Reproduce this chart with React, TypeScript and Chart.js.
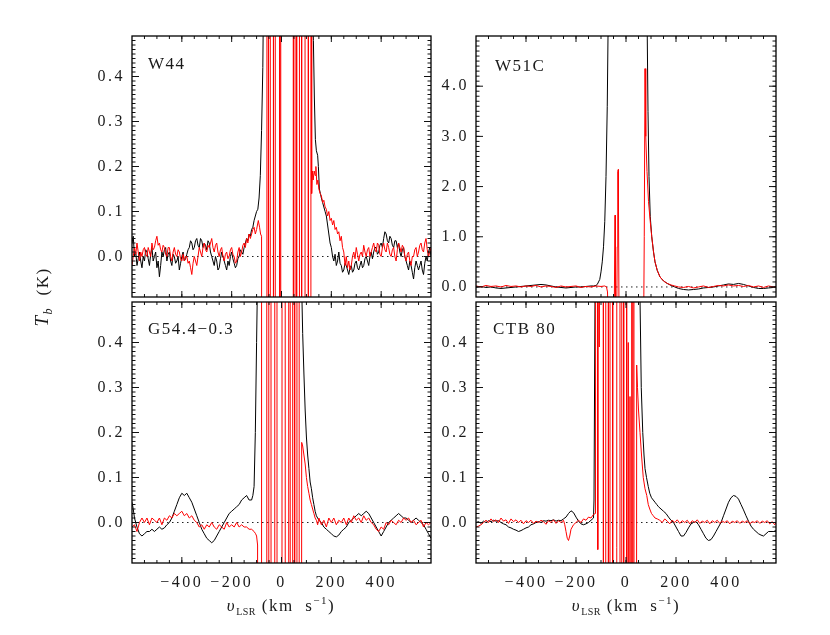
import React, { useEffect, useRef } from 'react';
import { Chart, registerables } from 'chart.js';
Chart.register(...registerables);

type Pt = [number, number];

// ---------- axes / ticks ----------
const xTickValues = [-400, -200, 0, 200, 400];
const xTickLabels = ['−400', '−200', '0', '200', '400'];
const lowYTickValues = [0, 0.1, 0.2, 0.3, 0.4];
const lowYTickLabels = ['0.0', '0.1', '0.2', '0.3', '0.4'];
const w51cYTickValues = [0, 1, 2, 3, 4];
const w51cYTickLabels = ['0.0', '1.0', '2.0', '3.0', '4.0'];
const panelNames = ['W44', 'W51C', 'G54.4−0.3', 'CTB 80'];

// ---------- W44 ----------
const w44Black: Pt[] = [
  [-600, 0.03], [-595, 0.045], [-590, 0.0], [-585, 0.01], [-580, -0.02], [-575, -0.005], [-570, 0.01], [-565, -0.01],
  [-560, -0.025], [-555, 0.0], [-550, -0.01], [-545, 0.015], [-540, 0.01], [-535, -0.005], [-530, -0.02], [-525, 0.005],
  [-520, 0.02], [-515, -0.01], [-510, 0.0], [-505, 0.01], [-500, -0.025], [-495, -0.01], [-490, -0.045], [-485, -0.02],
  [-480, 0.01], [-475, 0.0], [-470, 0.015], [-465, 0.02], [-460, -0.01], [-455, 0.005], [-450, 0.01], [-445, -0.01],
  [-440, -0.02], [-435, 0.005], [-430, 0.0], [-425, -0.015], [-420, -0.01], [-415, 0.0], [-410, -0.03], [-405, -0.015],
  [-400, 0.0], [-395, 0.01], [-390, -0.01], [-385, -0.005], [-380, 0.005], [-375, 0.015], [-370, 0.02], [-365, 0.035],
  [-360, 0.03], [-355, 0.015], [-350, 0.02], [-345, 0.035], [-340, 0.04], [-335, 0.025], [-330, 0.02], [-325, 0.04],
  [-320, 0.035], [-315, 0.02], [-310, 0.03], [-305, 0.025], [-300, 0.015], [-295, 0.035], [-290, 0.03], [-285, 0.01],
  [-280, 0.0], [-275, -0.01], [-270, -0.02], [-265, 0.0], [-260, -0.01], [-255, -0.03], [-250, -0.025], [-245, -0.005],
  [-240, 0.01], [-235, 0.0], [-230, -0.01], [-225, -0.02], [-220, -0.03], [-215, -0.01], [-210, -0.02], [-205, 0.0],
  [-200, 0.01], [-195, -0.005], [-190, -0.015], [-185, -0.025], [-180, -0.02], [-175, -0.005], [-170, 0.0], [-165, 0.015],
  [-160, 0.01], [-155, 0.005], [-150, 0.02], [-145, 0.03], [-140, 0.04], [-135, 0.035], [-130, 0.05], [-125, 0.045],
  [-120, 0.06], [-115, 0.065], [-110, 0.08], [-105, 0.09], [-100, 0.1], [-95, 0.105], [-90, 0.13], [-85, 0.18],
  [-80, 0.28], [-75, 0.42], [-70, 0.7], [-60, 1.5], [-40, 3], [0, 4], [60, 3], [100, 1.5], [115, 0.9], [122, 0.6],
  [128, 0.48], [132, 0.35], [136, 0.26], [140, 0.235], [145, 0.225], [148, 0.2], [152, 0.15], [156, 0.14],
  [160, 0.13], [165, 0.12], [170, 0.11], [175, 0.1], [180, 0.09], [185, 0.07], [190, 0.05], [195, 0.03], [200, 0.02],
  [205, 0.0], [210, -0.01], [215, 0.005], [220, -0.02], [225, -0.01], [230, 0.01], [235, -0.015], [240, -0.02],
  [245, -0.035], [250, -0.03], [255, -0.015], [260, -0.02], [265, -0.03], [270, -0.04], [275, -0.025], [280, -0.02],
  [285, -0.035], [290, -0.03], [295, -0.015], [300, -0.01], [305, -0.025], [310, -0.03], [315, -0.02], [320, -0.01],
  [325, -0.025], [330, -0.02], [335, -0.005], [340, 0.0], [345, -0.01], [350, -0.02], [355, 0.0], [360, 0.01],
  [365, -0.005], [370, 0.01], [375, 0.02], [380, 0.02], [385, 0.005], [390, 0.01], [395, 0.025], [400, 0.03],
  [405, 0.02], [410, 0.04], [415, 0.055], [420, 0.05], [425, 0.035], [430, 0.03], [435, 0.045], [440, 0.04],
  [445, 0.025], [450, 0.02], [455, 0.035], [460, 0.035], [465, 0.02], [470, 0.03], [475, 0.01], [480, 0.0],
  [485, 0.015], [490, 0.02], [495, 0.0], [500, -0.01], [505, -0.02], [510, -0.03], [515, -0.01], [520, -0.02],
  [525, -0.035], [530, -0.05], [535, -0.025], [540, -0.01], [545, -0.02], [550, -0.03], [555, -0.02], [560, -0.01],
  [565, -0.03], [570, -0.04], [575, -0.015], [580, 0.0], [585, -0.01], [590, 0.01], [595, 0.02], [600, 0.0],
];
const w44Red: Pt[] = [
  [-600, -0.02], [-595, 0.0], [-590, 0.02], [-585, 0.005], [-580, 0.03], [-575, 0.01], [-570, -0.01], [-565, 0.01],
  [-560, 0.0], [-555, 0.015], [-550, 0.02], [-545, 0.005], [-540, 0.0], [-535, 0.02], [-530, 0.01], [-525, 0.0],
  [-520, 0.03], [-515, 0.015], [-510, 0.02], [-505, 0.035], [-500, 0.045], [-495, 0.025], [-490, 0.03], [-485, 0.015],
  [-480, 0.01], [-475, 0.025], [-470, 0.02], [-465, 0.005], [-460, 0.0], [-455, 0.02], [-450, 0.02], [-445, 0.0],
  [-440, -0.01], [-435, 0.01], [-430, 0.02], [-425, 0.005], [-420, 0.0], [-415, 0.015], [-410, 0.01], [-405, -0.005],
  [-400, -0.01], [-395, 0.005], [-390, -0.01], [-385, 0.0], [-380, 0.0], [-375, -0.015], [-370, -0.01], [-365, -0.025],
  [-360, -0.04], [-355, -0.015], [-350, 0.0], [-345, -0.01], [-340, -0.02], [-335, 0.0], [-330, 0.02], [-325, 0.01],
  [-320, 0.0], [-315, 0.02], [-310, 0.03], [-305, 0.015], [-300, 0.01], [-295, 0.025], [-290, 0.02], [-285, 0.03],
  [-280, 0.04], [-275, 0.02], [-270, 0.01], [-265, 0.025], [-260, 0.03], [-255, 0.01], [-250, 0.0], [-245, 0.015],
  [-240, 0.02], [-235, 0.0], [-230, -0.01], [-225, 0.005], [-220, 0.01], [-215, -0.005], [-210, 0.0], [-205, 0.015],
  [-200, 0.02], [-195, 0.005], [-190, 0.0], [-185, -0.015], [-180, -0.01], [-175, 0.01], [-170, 0.02], [-165, 0.0],
  [-160, 0.01], [-155, 0.025], [-150, 0.03], [-145, 0.02], [-140, 0.04], [-135, 0.03], [-130, 0.05], [-125, 0.04],
  [-120, 0.05], [-115, 0.06], [-110, 0.065], [-105, 0.05], [-100, 0.06], [-93, 0.08], [-88, 0.065], [-84, 0.05],
  [-80, 0.045], [-76, -5], [-59, -5], [-58, 5], [-53, 5], [-52, -5], [-46, -5], [-45, 5], [-33, 5], [-32, -5],
  [-26, -5], [-25, 5], [-8, 5], [-7, -5], [-4, -5], [-3, 5], [47, 5], [48, -5], [54, -5], [55, 5], [60, 5],
  [61, -5], [71, -5], [72, 5], [80, 5], [81, -5], [94, -5], [95, 5], [107, 5], [108, -5], [117, -5], [119, 5],
  [121, 0.14], [124, 0.19], [127, 0.17], [131, 0.19], [135, 0.18], [138, 0.2], [142, 0.16], [146, 0.17],
  [150, 0.15], [155, 0.14], [160, 0.135], [165, 0.12], [170, 0.125], [175, 0.11], [180, 0.105], [185, 0.09],
  [190, 0.1], [195, 0.08], [200, 0.085], [205, 0.07], [210, 0.08], [215, 0.06], [220, 0.065], [225, 0.05],
  [230, 0.055], [235, 0.035], [240, 0.045], [245, 0.02], [250, 0.01], [255, -0.02], [260, 0.0], [265, -0.025],
  [270, -0.01], [275, -0.03], [280, -0.02], [285, 0.0], [290, 0.01], [295, -0.005], [300, 0.02], [305, 0.005],
  [310, -0.01], [315, 0.005], [320, 0.01], [325, 0.0], [330, 0.025], [335, 0.01], [340, 0.0], [345, 0.015],
  [350, 0.02], [355, 0.0], [360, 0.01], [365, 0.02], [370, 0.03], [375, 0.015], [380, 0.01], [385, 0.03],
  [390, 0.025], [395, 0.005], [400, 0.0], [405, 0.02], [410, 0.03], [415, 0.015], [420, 0.01], [425, 0.03],
  [430, 0.02], [435, 0.005], [440, 0.0], [445, 0.015], [450, 0.02], [455, 0.0], [460, -0.01], [465, 0.015],
  [470, 0.03], [475, 0.02], [480, 0.01], [485, 0.025], [490, 0.02], [495, 0.0], [500, -0.01], [505, 0.005],
  [510, 0.01], [515, -0.01], [520, -0.02], [525, 0.0], [530, 0.0], [535, 0.015], [540, 0.02], [545, 0.0],
  [550, 0.01], [555, 0.025], [560, 0.03], [565, 0.015], [570, 0.01], [575, 0.03], [580, 0.04], [585, 0.015],
  [590, 0.0], [595, 0.01], [600, 0.02],
];

// ---------- W51C ----------
const w51cBlack: Pt[] = [
  [-600, 0.0], [-580, 0.01], [-560, -0.01], [-540, 0.0], [-520, -0.02], [-500, -0.03], [-480, -0.02], [-460, -0.01],
  [-440, 0.0], [-420, 0.01], [-400, 0.02], [-380, 0.03], [-360, 0.04], [-340, 0.05], [-320, 0.04], [-300, 0.02],
  [-280, 0.0], [-260, -0.01], [-240, -0.02], [-220, -0.01], [-200, 0.0], [-180, 0.0], [-160, 0.01], [-140, 0.02],
  [-130, 0.02], [-120, 0.03], [-115, 0.05], [-110, 0.1], [-105, 0.15], [-100, 0.3], [-95, 0.5], [-90, 0.8],
  [-85, 1.3], [-80, 2.2], [-75, 3.6], [-72, 5.0], [-70, 7], [0, 9], [80, 7], [85, 5], [88, 3.5], [92, 2.2],
  [97, 1.4], [103, 1.0], [110, 0.7], [116, 0.5], [125, 0.33], [136, 0.2], [150, 0.12], [165, 0.07], [180, 0.03],
  [195, 0.0], [210, -0.03], [230, -0.05], [250, -0.06], [270, -0.05], [290, -0.04], [310, -0.02], [330, -0.01],
  [350, 0.0], [370, 0.02], [390, 0.04], [410, 0.06], [430, 0.05], [450, 0.07], [470, 0.05], [490, 0.02],
  [510, -0.01], [530, -0.03], [550, -0.03], [570, -0.02], [590, -0.01], [600, 0.0],
];
const w51cRed: Pt[] = [
  [-600, 0.02], [-580, 0.0], [-560, 0.03], [-540, 0.01], [-520, 0.02], [-500, 0.0], [-480, 0.03], [-460, 0.01],
  [-440, 0.02], [-420, 0.0], [-400, 0.02], [-380, 0.01], [-360, 0.03], [-340, 0.0], [-320, 0.02], [-300, 0.01],
  [-280, -0.01], [-260, 0.02], [-240, 0.0], [-220, 0.01], [-200, 0.02], [-180, -0.01], [-160, 0.01], [-140, 0.0],
  [-120, 0.02], [-100, 0.01], [-85, 0.02], [-78, 0.0], [-74, -0.1], [-72, -0.5], [-47, -0.5], [-44, 1.43],
  [-42, -0.5], [-37, -0.5], [-35, 0.8], [-33, 2.3], [-31, 2.34], [-30, 1.5], [-28, -0.5], [71, -0.5], [73, 1.0],
  [76, 4.35], [79, 3.0], [84, 2.3], [90, 1.7], [97, 1.3], [103, 1.0], [110, 0.7], [116, 0.5], [125, 0.33],
  [136, 0.2], [150, 0.12], [165, 0.07], [180, 0.04], [195, 0.02], [210, 0.0], [230, -0.01], [250, 0.01],
  [270, -0.02], [290, 0.0], [310, 0.02], [330, -0.01], [350, 0.01], [370, 0.03], [390, 0.02], [410, 0.04],
  [430, 0.02], [450, 0.03], [470, 0.01], [490, 0.03], [510, 0.0], [530, 0.02], [550, -0.01], [570, 0.02],
  [590, 0.0], [600, 0.01],
];

// ---------- G54.4-0.3 ----------
const g54Black: Pt[] = [
  [-600, 0.045], [-595, 0.03], [-590, 0.01], [-580, -0.01], [-570, -0.025], [-560, -0.03], [-550, -0.025],
  [-540, -0.02], [-530, -0.02], [-520, -0.015], [-510, -0.02], [-500, -0.015], [-490, -0.01], [-480, -0.015],
  [-470, -0.012], [-460, -0.005], [-450, 0.0], [-440, 0.01], [-430, 0.025], [-420, 0.04], [-410, 0.055],
  [-400, 0.065], [-390, 0.06], [-380, 0.065], [-370, 0.055], [-360, 0.045], [-350, 0.03], [-340, 0.015],
  [-330, 0.0], [-320, -0.015], [-310, -0.025], [-300, -0.035], [-290, -0.04], [-280, -0.045], [-270, -0.04],
  [-260, -0.03], [-250, -0.02], [-240, -0.01], [-230, 0.0], [-220, 0.01], [-210, 0.02], [-200, 0.025],
  [-190, 0.03], [-180, 0.035], [-170, 0.04], [-160, 0.05], [-150, 0.055], [-140, 0.06], [-130, 0.05],
  [-120, 0.05], [-115, 0.06], [-110, 0.08], [-105, 0.2], [-100, 0.4], [-96, 0.55], [-90, 1.0], [-50, 3],
  [0, 4], [50, 3], [75, 1.0], [80, 0.55], [85, 0.42], [90, 0.33], [95, 0.25], [100, 0.19], [105, 0.15],
  [110, 0.12], [115, 0.09], [120, 0.075], [125, 0.055], [130, 0.04], [135, 0.025], [140, 0.015], [150, 0.005],
  [160, 0.0], [170, -0.01], [180, -0.015], [190, -0.02], [200, -0.025], [210, -0.03], [220, -0.032],
  [230, -0.028], [240, -0.02], [250, -0.015], [260, -0.01], [270, 0.0], [280, 0.005], [290, 0.01], [300, 0.015],
  [310, 0.02], [320, 0.015], [330, 0.02], [340, 0.025], [350, 0.02], [360, 0.01], [370, 0.0], [380, -0.01],
  [390, -0.02], [400, -0.03], [410, -0.02], [420, -0.01], [430, 0.0], [440, 0.005], [450, 0.01], [460, 0.015],
  [470, 0.02], [480, 0.015], [490, 0.01], [500, 0.01], [510, 0.005], [520, 0.0], [530, 0.005], [540, 0.01],
  [550, 0.005], [560, 0.0], [570, -0.005], [580, -0.015], [590, -0.025], [600, -0.035],
];
const g54Red: Pt[] = [
  [-600, -0.01], [-590, -0.005], [-580, -0.02], [-570, 0.0], [-560, 0.01], [-550, 0.0], [-540, 0.01],
  [-530, -0.005], [-520, 0.01], [-510, 0.005], [-500, 0.0], [-490, 0.01], [-480, -0.005], [-470, 0.01],
  [-460, 0.005], [-450, 0.015], [-440, 0.01], [-430, 0.02], [-420, 0.015], [-410, 0.02], [-400, 0.025],
  [-390, 0.015], [-380, 0.02], [-370, 0.01], [-360, 0.015], [-350, 0.005], [-340, 0.0], [-330, -0.01],
  [-320, -0.005], [-310, -0.015], [-300, -0.005], [-290, -0.01], [-280, 0.0], [-270, -0.01], [-260, -0.015],
  [-250, -0.005], [-240, -0.01], [-230, -0.015], [-220, 0.0], [-210, -0.01], [-200, -0.005], [-190, -0.01],
  [-180, 0.0], [-170, -0.01], [-160, -0.005], [-150, -0.01], [-140, -0.01], [-130, -0.015], [-120, -0.015],
  [-110, -0.02], [-104, -0.025], [-100, -0.03], [-96, -0.05], [-94, -6], [-82, -6], [-80, 6], [-60, 6],
  [-58, -6], [-53, -6], [-51, 6], [-43, 6], [-41, -6], [-29, -6], [-27, 6], [-19, 6], [-17, -6], [1, -6],
  [3, 6], [14, 6], [16, -6], [27, -6], [29, 6], [34, 6], [36, -6], [43, -6], [45, 6], [51, 6], [53, -6],
  [60, -6], [62, 6], [70, 6], [72, -6], [76, -6], [81, 0.178], [85, 0.17], [90, 0.15], [95, 0.13], [100, 0.1],
  [105, 0.08], [110, 0.065], [115, 0.05], [120, 0.04], [125, 0.03], [130, 0.02], [135, 0.01], [140, 0.005],
  [145, -0.005], [150, 0.01], [160, -0.005], [170, 0.005], [180, -0.01], [190, 0.01], [200, 0.0], [210, 0.01],
  [220, -0.005], [230, 0.005], [240, 0.0], [250, 0.01], [260, -0.005], [270, 0.01], [280, 0.0], [290, 0.015],
  [300, 0.005], [310, 0.01], [320, 0.0], [330, 0.015], [340, 0.005], [350, 0.01], [360, 0.0], [370, -0.005],
  [380, -0.015], [390, -0.02], [400, -0.01], [410, -0.015], [420, 0.0], [430, -0.005], [440, 0.005], [450, 0.0],
  [460, -0.005], [470, 0.005], [480, 0.0], [490, 0.01], [500, 0.005], [510, 0.01], [520, 0.0], [530, 0.005],
  [540, -0.005], [550, 0.0], [560, 0.005], [570, -0.01], [580, 0.0], [590, -0.005], [600, 0.0],
];

// ---------- CTB 80 ----------
const ctbBlack: Pt[] = [
  [-600, 0.0], [-590, 0.002], [-580, -0.002], [-570, 0.003], [-560, 0.0], [-550, 0.004], [-540, 0.002],
  [-530, 0.005], [-520, 0.003], [-510, 0.004], [-500, 0.0], [-490, -0.003], [-480, -0.005], [-470, -0.01],
  [-460, -0.012], [-450, -0.015], [-440, -0.017], [-430, -0.02], [-420, -0.018], [-410, -0.015], [-400, -0.012],
  [-390, -0.01], [-380, -0.005], [-370, -0.003], [-360, 0.0], [-350, 0.002], [-340, 0.0], [-330, 0.004],
  [-320, 0.003], [-310, 0.005], [-300, 0.004], [-290, 0.006], [-280, 0.003], [-270, 0.005], [-260, 0.004],
  [-250, 0.008], [-240, 0.012], [-230, 0.02], [-220, 0.026], [-210, 0.022], [-200, 0.012], [-190, 0.003],
  [-180, -0.003], [-170, -0.005], [-160, -0.003], [-150, 0.0], [-140, 0.005], [-130, 0.01], [-128, 0.05],
  [-124, 0.5], [-100, 3], [0, 4], [50, 1.0], [56, 0.5], [61, 0.3], [67, 0.2], [72, 0.15], [76, 0.12], [82, 0.1],
  [89, 0.08], [95, 0.065], [102, 0.055], [109, 0.05], [116, 0.045], [123, 0.04], [130, 0.035], [140, 0.03],
  [150, 0.025], [160, 0.02], [170, 0.012], [180, 0.005], [190, 0.0], [200, -0.01], [210, -0.02], [220, -0.03],
  [230, -0.03], [240, -0.022], [250, -0.012], [260, -0.003], [270, 0.0], [280, 0.002], [290, -0.005],
  [300, -0.015], [310, -0.025], [320, -0.035], [330, -0.04], [340, -0.038], [350, -0.03], [360, -0.02],
  [370, -0.01], [380, 0.0], [390, 0.015], [400, 0.03], [410, 0.045], [420, 0.055], [430, 0.06], [440, 0.058],
  [450, 0.052], [460, 0.04], [470, 0.028], [480, 0.015], [490, 0.003], [500, -0.008], [510, -0.015],
  [520, -0.02], [530, -0.025], [540, -0.028], [550, -0.03], [560, -0.025], [570, -0.02], [580, -0.02],
  [590, -0.02], [600, -0.018],
];
const ctbRed: Pt[] = [
  [-600, -0.01], [-590, -0.008], [-580, -0.005], [-570, 0.0], [-560, 0.005], [-550, 0.0], [-540, 0.008],
  [-530, 0.002], [-520, 0.006], [-510, 0.0], [-500, 0.01], [-490, 0.003], [-480, 0.006], [-470, -0.002],
  [-460, 0.008], [-450, 0.002], [-440, 0.006], [-430, 0.0], [-420, 0.005], [-410, -0.003], [-400, 0.004],
  [-390, 0.0], [-380, 0.005], [-370, -0.002], [-360, 0.003], [-350, 0.0], [-340, 0.005], [-330, 0.002],
  [-320, -0.004], [-310, 0.004], [-300, 0.0], [-290, 0.006], [-280, -0.002], [-270, 0.004], [-260, 0.0],
  [-250, 0.005], [-245, -0.005], [-240, -0.02], [-235, -0.035], [-230, -0.04], [-225, -0.03], [-220, -0.015],
  [-210, -0.005], [-200, 0.0], [-190, 0.005], [-180, 0.0], [-170, 0.008], [-160, 0.005], [-150, 0.012],
  [-140, 0.01], [-130, 0.018], [-122, 0.02], [-118, 6], [-115, 6], [-113, -0.06], [-110, 6], [-107, 0.39],
  [-104, 6], [-92, 6], [-90, -6], [-82, -6], [-80, 6], [-72, 6], [-70, -6], [-65, -6], [-63, 6], [-55, 6],
  [-53, -6], [-39, -6], [-37, -0.055], [-35, 6], [-25, 6], [-23, -6], [-18, -6], [-16, 6], [-11, 6], [-9, -6],
  [0, -6], [2, 6], [5, -6], [9, 0.4], [13, -6], [16, 0.28], [20, -6], [23, 6], [26, -6], [30, 6], [34, -6],
  [38, -6], [42.7, 0.35], [46, 0.3], [50, 0.25], [56, 0.2], [62, 0.15], [69, 0.1], [76, 0.075], [83, 0.06],
  [89, 0.04], [95, 0.03], [102, 0.02], [109, 0.015], [116, 0.01], [125, 0.008], [135, 0.005], [145, 0.0],
  [155, 0.008], [165, 0.003], [175, -0.003], [185, 0.005], [195, 0.0], [205, 0.006], [215, -0.002], [225, 0.004],
  [235, 0.0], [245, 0.005], [255, -0.003], [265, 0.004], [275, 0.0], [285, 0.006], [295, -0.002], [305, 0.003],
  [315, 0.0], [325, 0.005], [335, -0.003], [345, 0.004], [355, 0.0], [365, 0.005], [375, -0.002], [385, 0.003],
  [395, 0.0], [405, 0.004], [415, -0.003], [425, 0.003], [435, 0.0], [445, 0.004], [455, -0.002], [465, 0.003],
  [475, 0.0], [485, 0.004], [495, -0.003], [505, 0.002], [515, 0.0], [525, 0.004], [535, -0.002], [545, 0.003],
  [555, 0.0], [565, 0.004], [575, -0.003], [585, 0.002], [595, -0.005], [600, 0.0],
];

// ---------- helpers ----------
const FONT = "'Liberation Serif', 'Times New Roman', serif";
const TEXT = '#1a1a1a';
const W = 830, H = 635;
const Y_AXIS_W = 50;
const X_AXIS_H = 40;

const steps = (a: number, b: number, s: number) => {
  const out: number[] = [];
  const n = Math.round((b - a) / s);
  for (let i = 0; i <= n; i++) out.push(+(a + i * s).toFixed(4));
  return out;
};
const xMinor = steps(-550, 550, 50);
const lowYMinor = steps(-0.08, 0.48, 0.01);
const w51cYMinor = steps(-0.1, 4.9, 0.1);

const frameTicks = {
  id: 'frameTicks',
  beforeDraw(chart: any) {
    chart.ctx.letterSpacing = '2.5px';
  },
  afterDatasetsDraw(chart: any, _a: any, opts: any) {
    const { ctx, chartArea: a } = chart;
    const xs = chart.scales.x, ys = chart.scales.y;
    ctx.save();
    ctx.strokeStyle = '#111';
    ctx.lineWidth = 1;
    ctx.beginPath();
    const seg = (x1: number, y1: number, x2: number, y2: number) => { ctx.moveTo(x1, y1); ctx.lineTo(x2, y2); };
    const xt = (vals: number[], len: number) => vals.forEach((v) => {
      const p = xs.getPixelForValue(v);
      seg(p, a.bottom, p, a.bottom - len); seg(p, a.top, p, a.top + len);
    });
    const yt = (vals: number[], len: number) => vals.forEach((v) => {
      const p = ys.getPixelForValue(v);
      seg(a.left, p, a.left + len, p); seg(a.right, p, a.right - len, p);
    });
    xt(xMinor, 3); xt(xTickValues, 6);
    yt(opts.yMinor, 3.5); yt(opts.yMajor, 7);
    ctx.stroke();
    ctx.lineWidth = 1.3;
    ctx.strokeStyle = '#000';
    ctx.strokeRect(a.left, a.top, a.right - a.left, a.bottom - a.top);
    ctx.restore();
  },
};

interface PanelCfg {
  left: number; top: number; right: number; bottom: number;
  black: Pt[]; red: Pt[];
  yMin: number; yMax: number;
  yMajor: number[]; yLabels: string[]; yMinor: number[];
  showX: boolean;
}

function Panel({ cfg }: { cfg: PanelCfg }) {
  const ref = useRef<HTMLCanvasElement>(null);
  useEffect(() => {
    const c = cfg;
    const xh = c.showX ? X_AXIS_H : 0;
    const toXY = (arr: Pt[]) => arr.map(([x, y]) => ({ x, y }));
    const chart = new Chart(ref.current as HTMLCanvasElement, {
      type: 'line',
      data: {
        datasets: [
          { data: toXY(c.red), borderColor: '#ff0000', borderWidth: 1, pointRadius: 0, tension: 0, clip: 0 } as any,
          { data: toXY(c.black), borderColor: '#000000', borderWidth: 1, pointRadius: 0, tension: 0, clip: 0 } as any,
          { data: [{ x: -600, y: 0 }, { x: 600, y: 0 }], borderColor: '#222', borderWidth: 1, borderDash: [1.5, 3.5], pointRadius: 0, clip: 0 } as any,
        ],
      },
      options: {
        responsive: false,
        animation: false,
        devicePixelRatio: 1,
        events: [],
        layout: {
          padding: { left: c.left - Y_AXIS_W, top: c.top, right: W - c.right, bottom: H - c.bottom - xh },
        },
        plugins: { legend: { display: false }, tooltip: { enabled: false }, frameTicks: { yMajor: c.yMajor, yMinor: c.yMinor } } as any,
        scales: {
          x: {
            type: 'linear', min: -600, max: 600,
            grid: { display: false, drawTicks: false }, border: { display: false },
            ticks: {
              display: c.showX, autoSkip: false, maxRotation: 0, minRotation: 0, padding: 10,
              color: TEXT, font: { family: FONT, size: 16 },
              callback: (v: any) => { const i = xTickValues.indexOf(Number(v)); return i >= 0 ? xTickLabels[i] : ''; },
            },
            afterBuildTicks: (s: any) => { s.ticks = xTickValues.map((value) => ({ value })); },
            afterFit: (s: any) => { s.height = xh; },
          },
          y: {
            type: 'linear', min: c.yMin, max: c.yMax,
            grid: { display: false, drawTicks: false }, border: { display: false },
            ticks: {
              autoSkip: false, padding: 7, color: TEXT, font: { family: FONT, size: 16 },
              callback: (v: any) => { const i = c.yMajor.indexOf(Number(v)); return i >= 0 ? c.yLabels[i] : ''; },
            },
            afterBuildTicks: (s: any) => { s.ticks = c.yMajor.map((value) => ({ value })); },
            afterFit: (s: any) => { s.width = Y_AXIS_W; },
          },
        },
      } as any,
      plugins: [frameTicks as any],
    });
    return () => chart.destroy();
  }, [cfg]);
  return <canvas ref={ref} width={W} height={H} style={{ position: 'absolute', left: 0, top: 0 }} />;
}

const panels: PanelCfg[] = [
  { left: 132, top: 36, right: 431, bottom: 297, black: w44Black, red: w44Red, yMin: -0.09, yMax: 0.49,
    yMajor: lowYTickValues, yLabels: lowYTickLabels, yMinor: lowYMinor, showX: false },
  { left: 476, top: 36, right: 776, bottom: 297, black: w51cBlack, red: w51cRed, yMin: -0.2, yMax: 5.0,
    yMajor: w51cYTickValues, yLabels: w51cYTickLabels, yMinor: w51cYMinor, showX: false },
  { left: 132, top: 302, right: 431, bottom: 563, black: g54Black, red: g54Red, yMin: -0.09, yMax: 0.49,
    yMajor: lowYTickValues, yLabels: lowYTickLabels, yMinor: lowYMinor, showX: true },
  { left: 476, top: 302, right: 776, bottom: 563, black: ctbBlack, red: ctbRed, yMin: -0.09, yMax: 0.49,
    yMajor: lowYTickValues, yLabels: lowYTickLabels, yMinor: lowYMinor, showX: true },
];

const labelPos = [
  { left: 148, top: 55 },
  { left: 495, top: 57 },
  { left: 148, top: 320 },
  { left: 493, top: 320 },
];

const textBase: React.CSSProperties = {
  position: 'absolute', fontFamily: FONT, color: TEXT, fontSize: 17, lineHeight: '17px',
  letterSpacing: '1.5px', whiteSpace: 'pre',
};

function XTitle({ center }: { center: number }) {
  return (
    <div style={{ ...textBase, left: center - 120, width: 240, top: 597, textAlign: 'center' }}>
      <span style={{ fontStyle: 'italic' }}>υ</span>
      <span style={{ fontSize: 10, position: 'relative', top: 4, letterSpacing: '0.5px' }}>LSR</span>
      {' (km  s'}
      <span style={{ fontSize: 11, position: 'relative', top: -7 }}>−1</span>
      {')'}
    </div>
  );
}

export default function App() {
  return (
    <div style={{ position: 'fixed', left: 0, top: 0, width: W, height: H, background: '#fff', overflow: 'hidden' }}>
      {panels.map((p, i) => <Panel key={i} cfg={p} />)}
      {panelNames.map((n, i) => (
        <div key={n} style={{ ...textBase, left: labelPos[i].left, top: labelPos[i].top }}>{n}</div>
      ))}
      <XTitle center={281} />
      <XTitle center={626} />
      <div style={{ ...textBase, left: 42 - 50, top: 297 - 10, width: 100, height: 20, lineHeight: '20px',
        textAlign: 'center', transform: 'rotate(-90deg)', transformOrigin: '50% 50%' }}>
        <span style={{ fontStyle: 'italic', fontSize: 19 }}>T</span>
        <span style={{ fontStyle: 'italic', fontSize: 12, position: 'relative', top: 4 }}>b</span>
        {'  (K)'}
      </div>
    </div>
  );
}
